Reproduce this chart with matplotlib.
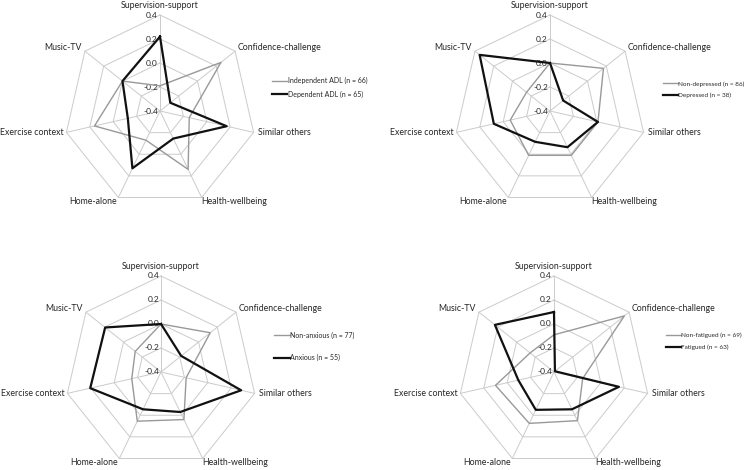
import numpy as np
import matplotlib
matplotlib.use("Agg")
import matplotlib.pyplot as plt
from matplotlib.lines import Line2D

plt.rcParams['font.family'] = ['Lato', 'DejaVu Sans']

# axis names, clockwise from the top
labels = ["Supervision-support", "Confidence-challenge", "Similar others",
          "Health-wellbeing", "Home-alone", "Exercise context", "Music-TV"]
levels = [0.4, 0.2, 0.0, -0.2, -0.4]

indep_adl = [-0.19, 0.25, -0.15, 0.14, -0.13, 0.16, 0.0]
dep_adl = [0.22, -0.29, 0.17, -0.145, 0.13, -0.125, 0.0]
non_depressed = [0.0, 0.17, 0.01, 0.01, 0.01, -0.06, -0.15]
depressed = [0.0, -0.26, 0.01, -0.065, -0.115, 0.08, 0.35]
non_anxious = [0.0, 0.125, -0.185, 0.04, 0.055, -0.15, -0.125]
anxious = [0.0, -0.185, 0.285, -0.03, -0.055, 0.205, 0.195]
non_fatigued = [-0.09, 0.35, -0.155, 0.05, 0.075, 0.10, -0.145]
fatigued = [0.10, -0.39, 0.155, -0.055, -0.05, -0.095, 0.23]

panels = [
    (indep_adl, dep_adl, "Independent ADL (n = 66)", "Dependent ADL (n = 65)"),
    (non_depressed, depressed, "Non-depressed (n = 86)", "Depressed (n = 38)"),
    (non_anxious, anxious, "Non-anxious (n = 77)", "Anxious (n = 55)"),
    (non_fatigued, fatigued, "Non-fatigued (n = 69)", "Fatigued (n = 63)"),
]

# axes rectangles (fig fraction) and legend anchors
W, H = 750, 470
R = 96
centers = [(160, 111), (550, 111), (161, 372), (554, 372)]
# legend x, y, label spacing, font size
legend_pos = [(0.362, 0.814, 0.9, 5.0), (0.884, 0.809, 1.0, 4.6),
              (0.365, 0.263, 2.2, 5.0), (0.888, 0.274, 1.0, 4.6)]

# label offsets in pixels (dx, dy, ha, va)
label_off = [(0, 5, 'center', 'bottom'), (3, 4, 'left', 'center'), (4, 0, 'left', 'center'),
             (0, -4, 'left', 'center'), (-1, -4, 'right', 'center'), (-3, 0, 'right', 'center'),
             (-3, 4, 'right', 'center')]

grid_col = '#cbcbcb'
text_col = '#262626'

fig = plt.figure(figsize=(7.5, 4.7), dpi=100)
n = len(labels)
theta = np.arange(n) * 2 * np.pi / n
theta_c = np.append(theta, theta[0])

for (a, b, la, lb), (cx, cy), (lx, ly, lsp, lfs) in zip(panels, centers, legend_pos):
    ax = fig.add_axes([(cx - R) / W, 1 - (cy + R) / H, 2 * R / W, 2 * R / H], projection='polar')
    ax.set_theta_zero_location('N')
    ax.set_theta_direction(-1)
    ax.set_ylim(-0.4, 0.4)
    ax.grid(False)
    ax.spines['polar'].set_visible(False)
    ax.set_xticks([])
    ax.set_yticks([])
    ax.patch.set_alpha(0)

    # heptagon grid and spokes
    for lv in levels[:-1]:
        ax.plot(theta_c, [lv] * (n + 1), color=grid_col, lw=0.7, clip_on=False, zorder=1)
    for t in theta:
        ax.plot([t, t], [-0.4, 0.4], color=grid_col, lw=0.7, clip_on=False, zorder=1)

    # radial tick labels
    for lv in levels:
        ax.annotate(f"{lv:.1f}", xy=(0, lv), xytext=(-2, 0), textcoords='offset pixels',
                    ha='right', va='center', fontsize=6, color=text_col, zorder=2)

    # axis labels
    for t, lab, (dx, dy, ha, va) in zip(theta, labels, label_off):
        ax.annotate(lab, xy=(t, 0.4), xytext=(dx, dy), textcoords='offset pixels',
                    ha=ha, va=va, fontsize=6.3, color=text_col, annotation_clip=False)

    ax.plot(theta_c, a + a[:1], color='#999999', lw=1.0, clip_on=False, zorder=3)
    ax.plot(theta_c, b + b[:1], color='#111111', lw=1.6, clip_on=False, zorder=4)

    handles = [Line2D([], [], color='#999999', lw=1.0), Line2D([], [], color='#111111', lw=1.6)]
    ax.legend(handles, [la, lb], loc='center left', bbox_to_anchor=(lx, ly),
              bbox_transform=fig.transFigure, frameon=False, fontsize=lfs,
              handlelength=2.3, handletextpad=0.1, borderpad=0, borderaxespad=0,
              labelspacing=lsp, labelcolor=text_col)

fig.savefig("out.png", dpi=100, facecolor='white')
